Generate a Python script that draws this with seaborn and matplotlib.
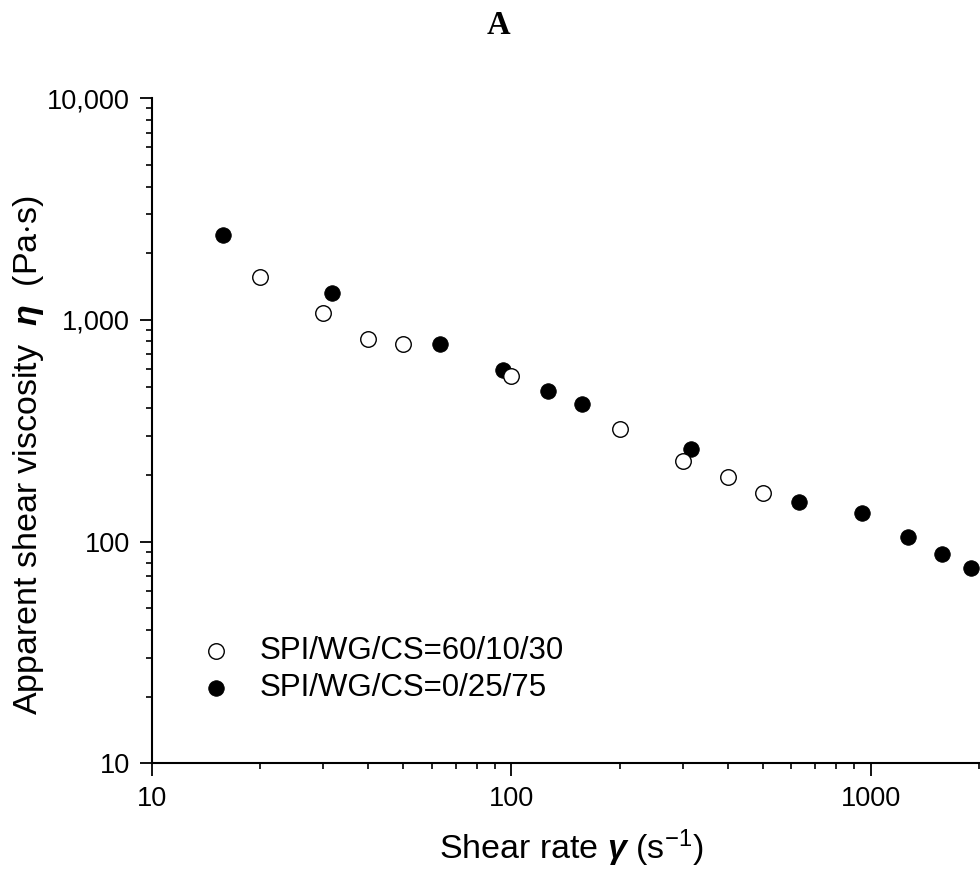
import matplotlib
matplotlib.use("Agg")
import matplotlib.pyplot as plt
import matplotlib.ticker as mticker
import seaborn as sns
import pandas as pd

# ---- data ----
label_open = "SPI/WG/CS=60/10/30"
label_filled = "SPI/WG/CS=0/25/75"
open_x = [20, 30, 40, 50, 100, 200, 300, 400, 500]
open_y = [1556, 1072, 817, 778, 560, 323, 232, 195, 166]
filled_x = [15.8, 31.6, 63.2, 94.8, 126.8, 157.5, 316.7, 632, 948, 1268, 1574, 1897]
filled_y = [2410, 1318, 776, 594, 480, 416, 261, 151, 134, 105, 87.7, 76]
x_ticks = [10, 100, 1000]
y_ticks = [10, 100, 1000, 10000]

sns.set_style("ticks")
plt.rcParams["font.family"] = ["Liberation Sans", "DejaVu Sans"]
plt.rcParams["text.color"] = "black"
plt.rcParams["axes.labelcolor"] = "black"
plt.rcParams["xtick.color"] = "black"
plt.rcParams["ytick.color"] = "black"
plt.rcParams["mathtext.fontset"] = "custom"
plt.rcParams["mathtext.rm"] = "Liberation Sans"
plt.rcParams["mathtext.it"] = "Liberation Sans:italic"
plt.rcParams["mathtext.bf"] = "Liberation Sans:italic:bold"

df_open = pd.DataFrame({"x": open_x, "y": open_y})
df_filled = pd.DataFrame({"x": filled_x, "y": filled_y})

fig = plt.figure(figsize=(9.8, 8.72), dpi=100)
ax = fig.add_axes([152 / 980, 1 - 763.3 / 872, 827 / 980, 665 / 872])

ms = 125
sns.scatterplot(data=df_filled, x="x", y="y", ax=ax, marker="o", s=ms,
                color="black", edgecolor="black", linewidth=0.6,
                label=label_filled, zorder=3)
sns.scatterplot(data=df_open, x="x", y="y", ax=ax, marker="o", s=ms,
                facecolor="white", edgecolor="black", linewidth=1.0,
                label=label_open, zorder=4)

ax.set_xscale("log")
ax.set_yscale("log")
ax.set_xlim(10, 2000)
ax.set_ylim(10, 10000)

ax.xaxis.set_major_locator(mticker.FixedLocator(x_ticks))
ax.yaxis.set_major_locator(mticker.FixedLocator(y_ticks))
ax.xaxis.set_major_formatter(mticker.FuncFormatter(lambda v, p: f"{v:.0f}"))
ax.yaxis.set_major_formatter(mticker.FuncFormatter(lambda v, p: f"{v:,.0f}"))
ax.xaxis.set_minor_locator(mticker.LogLocator(base=10, subs=range(2, 10), numticks=20))
ax.yaxis.set_minor_locator(mticker.LogLocator(base=10, subs=range(2, 10), numticks=20))
ax.xaxis.set_minor_formatter(mticker.NullFormatter())
ax.yaxis.set_minor_formatter(mticker.NullFormatter())

sns.despine(ax=ax, top=True, right=True)
for s in ("left", "bottom"):
    ax.spines[s].set_linewidth(1.5)
    ax.spines[s].set_color("black")
ax.tick_params(which="major", direction="out", length=9, width=1.3,
               labelsize=19.5, pad=7, colors="black")
ax.tick_params(which="minor", direction="out", length=4.5, width=1.2, colors="black")

ax.set_xlabel(r"Shear rate $\mathbf{\gamma}$ (s$^{-1}$)", fontsize=24.5)
ax.set_ylabel(r"Apparent shear viscosity  $\mathbf{\eta}$  (Pa$\cdot$s)", fontsize=24.5)
ax.xaxis.set_label_coords(0.5067, -0.097)
ax.yaxis.set_label_coords(-0.128, 0.4636)

handles, labels = ax.get_legend_handles_labels()
order = [labels.index(label_open), labels.index(label_filled)]
ax.legend([handles[i] for i in order], [labels[i] for i in order],
          loc="center left", bbox_to_anchor=(0.0585, 0.141), frameon=False,
          fontsize=22.5, borderpad=0, borderaxespad=0, handlelength=1.0,
          handletextpad=0.9, labelspacing=0.24)

fig.text(498 / 980, 1 - 34.3 / 872, "A", ha="center", va="baseline",
         fontfamily="Liberation Serif", fontweight="bold", fontsize=23.5)

fig.savefig("out.png", dpi=100)
